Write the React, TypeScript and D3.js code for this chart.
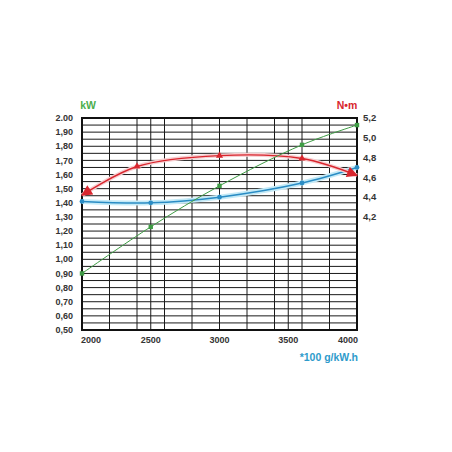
import * as d3 from "d3";

// ---- data ----
const rpmTicks = [2000, 2500, 3000, 3500, 4000];
const rpmGrid = [2000, 2200, 2400, 2500, 2600, 2800, 3000, 3200, 3400, 3500, 3600, 3800, 4000];
const kwTicks = ["2.00", "1,90", "1,80", "1,70", "1,60", "1,50", "1,40", "1,30", "1,20", "1,10", "1,00", "0,90", "0,80", "0,70", "0,60", "0,50"];
const kwTickValues = [2.0, 1.9, 1.8, 1.7, 1.6, 1.5, 1.4, 1.3, 1.2, 1.1, 1.0, 0.9, 0.8, 0.7, 0.6, 0.5];
const kwGrid = d3.range(0, 31).map(i => 0.5 + i * 0.05);
const nmTicks = ["5,2", "5,0", "4,8", "4,6", "4,4", "4,2"];
const nmTickValues = [5.2, 5.0, 4.8, 4.6, 4.4, 4.2];

// power (kW, left axis)
const powerRpm = [2000, 2500, 3000, 3600, 4000];
const powerKw = [0.9, 1.23, 1.52, 1.81, 1.95];
// fuel consumption (*100 g/kW.h, read on left scale)
const fuelRpm = [2000, 2500, 3000, 3600, 4000];
const fuelVal = [1.41, 1.4, 1.44, 1.54, 1.65];
// torque (N·m, right axis)
const torqueRpm = [2000, 2400, 3000, 3600, 4000];
const torqueNm = [4.42, 4.71, 4.82, 4.79, 4.62];

const GREEN = "#3f9c45";
const RED = "#d8262e";
const BLUE = "#2a8cc4";
const FONT = "'Liberation Sans', Arial, sans-serif";

export default function App() {
  const width = 452;
  const height = 452;
  const plot = { left: 82, right: 357, top: 118, bottom: 330 };

  const x = d3.scaleLinear().domain([2000, 4000]).range([plot.left, plot.right]);
  const yL = d3.scaleLinear().domain([0.5, 2.0]).range([plot.bottom, plot.top]);
  const yR = d3.scaleLinear().domain([4.2, 5.2]).range([yL(1.3), yL(2.0)]);

  const lineL = d3.line<[number, number]>()
    .x(d => x(d[0]))
    .y(d => yL(d[1]))
    .curve(d3.curveCatmullRom);
  const lineR = d3.line<[number, number]>()
    .x(d => x(d[0]))
    .y(d => yR(d[1]))
    .curve(d3.curveCatmullRom);

  const power = powerRpm.map((r, i) => [r, powerKw[i]] as [number, number]);
  const fuel = fuelRpm.map((r, i) => [r, fuelVal[i]] as [number, number]);
  const torque = torqueRpm.map((r, i) => [r, torqueNm[i]] as [number, number]);

  const tri = d3.symbol().type(d3.symbolTriangle).size(22)()!;

  return (
    <div style={{ position: "fixed", left: 0, top: 0 }}>
      <svg width={width} height={height} style={{ display: "block", background: "#fff" }}>
        <defs>
          <marker id="arrow" viewBox="0 0 10 10" refX="9" refY="5"
            markerUnits="userSpaceOnUse" markerWidth="12" markerHeight="11"
            orient="auto-start-reverse">
            <path d="M0,0 L10,5 L0,10 z" fill={RED} />
          </marker>
        </defs>

        {/* horizontal grid */}
        {kwGrid.map((v, i) => (
          <line key={"h" + i} x1={plot.left} x2={plot.right} y1={yL(v)} y2={yL(v)}
            stroke="#1a1a1a" strokeWidth={1} />
        ))}
        {/* vertical grid */}
        {rpmGrid.map(r => (
          <line key={"v" + r} x1={x(r)} x2={x(r)} y1={plot.top} y2={plot.bottom}
            stroke="#1a1a1a" strokeWidth={1} />
        ))}
        <rect x={plot.left} y={plot.top} width={plot.right - plot.left} height={plot.bottom - plot.top}
          fill="none" stroke="#111" strokeWidth={2} />

        {/* left axis labels */}
        {kwTicks.map((t, i) => (
          <text key={t} x={73} y={yL(kwTickValues[i])} dy="0.35em" textAnchor="end"
            fontFamily={FONT} fontWeight="bold" fontSize={9} fill="#333">{t}</text>
        ))}
        {/* right axis labels */}
        {nmTicks.map((t, i) => (
          <text key={t} x={363} y={yR(nmTickValues[i])} dy="0.35em" textAnchor="start"
            fontFamily={FONT} fontWeight="bold" fontSize={9.5} fill="#333">{t}</text>
        ))}
        {/* bottom axis labels */}
        {rpmTicks.map((r, i) => (
          <text key={r} x={i === 0 ? plot.left - 1 : i === rpmTicks.length - 1 ? plot.right + 1 : x(r)}
            y={343} textAnchor={i === 0 ? "start" : i === rpmTicks.length - 1 ? "end" : "middle"}
            fontFamily={FONT} fontWeight="bold" fontSize={9} fill="#333">{r}</text>
        ))}

        <text x={88} y={109} textAnchor="middle" fontFamily={FONT} fontWeight="bold" fontSize={10.5} fill="#4cae4c">kW</text>
        <text x={347} y={109} textAnchor="middle" fontFamily={FONT} fontWeight="bold" fontSize={10.5} fill={RED}>N•m</text>
        <text x={358} y={361} textAnchor="end" fontFamily={FONT} fontWeight="bold" fontSize={10.5} fill="#2e9bcb">*100 g/kW.h</text>

        {/* fuel consumption */}
        <path d={lineL(fuel)!} fill="none" stroke="#c4eaf7" strokeWidth={5} />
        <path d={lineL(fuel)!} fill="none" stroke={BLUE} strokeWidth={1.5} />
        {fuel.map(d => (
          <circle key={"f" + d[0]} cx={x(d[0])} cy={yL(d[1])} r={2.4} fill={BLUE} />
        ))}

        {/* torque */}
        <path d={lineR(torque)!} fill="none" stroke="#f7cfd1" strokeWidth={4} />
        <path d={lineR(torque)!} fill="none" stroke={RED} strokeWidth={1.4}
          markerStart="url(#arrow)" markerEnd="url(#arrow)" />
        {torque.slice(1, -1).map(d => (
          <path key={"t" + d[0]} d={tri} transform={`translate(${x(d[0])},${yR(d[1])})`} fill={RED} />
        ))}

        {/* power */}
        <path d={lineL(power)!} fill="none" stroke={GREEN} strokeWidth={1} />
        {power.map(d => (
          <rect key={"p" + d[0]} x={x(d[0]) - 2.2} y={yL(d[1]) - 2.2} width={4.4} height={4.4} fill={GREEN} />
        ))}
      </svg>
    </div>
  );
}
